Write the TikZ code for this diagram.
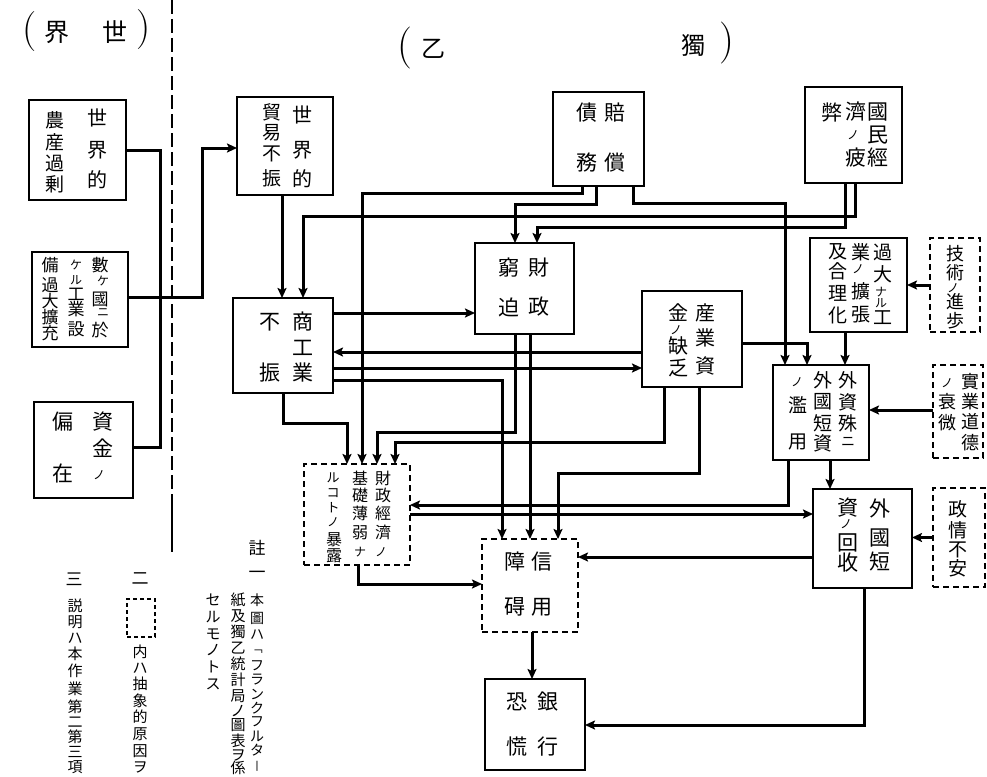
\documentclass[tikz,border=0pt]{standalone}
\usepackage{fontspec}
\newfontfamily\cjk{Noto Sans CJK JP}
\usetikzlibrary{arrows.meta}
\tikzset{
  box/.style={draw, line width=1.6pt, inner sep=0pt, outer sep=0pt},
  dbox/.style={box, dash pattern=on 6pt off 4pt},
  conn/.style={line width=3pt, line join=miter},
  arr/.style={conn, -{Stealth[length=10pt,width=9pt,inset=2pt]}},
  txt/.style={inner sep=0pt, outer sep=0pt},
  sep/.style={line width=1.3pt},
}
\newcommand\smk[1]{{\fontsize{12}{12}\selectfont #1}}
\newcommand\tnk[1]{{\fontsize{11}{11}\selectfont #1}}
\newcommand\jtx[3]{\foreach \xx/\yy/\ch [count=\k] in {#3} {\node[txt,font=\cjk\fontsize{#2}{#2}\selectfont] (#1-\k) at (\xx,\yy) {\ch};}}
\begin{document}
\begin{tikzpicture}[x=1pt,y=-1pt]
\useasboundingbox (0,0) rectangle (987,776);
\fill[white] (0,0) rectangle (987,776);

% ---------- titles
\node[txt,font=\fontsize{40}{40}\selectfont] (tl1) at (30,32) {(};
\node[txt,font=\cjk\fontsize{25}{25}\selectfont] (tl2) at (57,32) {界};
\node[txt,font=\cjk\fontsize{25}{25}\selectfont] (tl3) at (115,32) {世};
\node[txt,font=\fontsize{40}{40}\selectfont] (tl4) at (144,30) {)};
\node[txt,font=\fontsize{42}{42}\selectfont] (tr1) at (405,48) {(};
\node[txt,font=\cjk\fontsize{24}{24}\selectfont] (tr2) at (433,49) {乙};
\node[txt,font=\cjk\fontsize{24}{24}\selectfont] (tr3) at (693,45) {獨};
\node[txt,font=\fontsize{42}{42}\selectfont] (tr4) at (727,43) {)};

% ---------- separator
\draw[sep, dash pattern=on 14pt off 5pt] (172,0) -- (172,505);
\draw[sep] (172,505) -- (172,552);

% ---------- boxes
\node[box,minimum width=97pt,minimum height=100pt] (noho) at (77.5,150) {};
\node[box,minimum width=96pt,minimum height=95pt] (suka) at (80,299.5) {};
\node[box,minimum width=99pt,minimum height=96pt] (henzai) at (83.5,450) {};
\node[box,minimum width=96pt,minimum height=98pt] (boeki) at (285,146) {};
\node[box,minimum width=100pt,minimum height=95pt] (shoko) at (283,345.5) {};
\node[box,minimum width=91pt,minimum height=94pt] (baisho) at (598.5,139) {};
\node[box,minimum width=97pt,minimum height=96pt] (kokumin) at (853.5,135) {};
\node[box,minimum width=97pt,minimum height=94pt] (kadai) at (858.5,285) {};
\node[dbox,minimum width=50pt,minimum height=94pt] (gijutsu) at (955,285) {};
\node[box,minimum width=100pt,minimum height=96pt] (sangyo) at (692,339) {};
\node[box,minimum width=96pt,minimum height=95pt] (gaishi) at (821,412.5) {};
\node[dbox,minimum width=50pt,minimum height=93pt] (jitsu) at (958,411.5) {};
\node[box,minimum width=99pt,minimum height=99pt] (kaishu) at (862.5,538.5) {};
\node[dbox,minimum width=52pt,minimum height=99pt] (seijo) at (959,537.5) {};
\node[dbox,minimum width=106pt,minimum height=101pt] (zaikei) at (357,514.5) {};
\node[dbox,minimum width=96pt,minimum height=93pt] (shinyo) at (530,585.5) {};
\node[box,minimum width=100pt,minimum height=91pt] (ginko) at (535,724.5) {};
\node[box,minimum width=99pt,minimum height=91pt] (zaisei) at (524.5,288.5) {};

% ---------- box texts (vertical columns, right to left)
\jtx{noR}{20}{97/118/世, 97/150/界, 97/180/的}
\jtx{noL}{19}{55/120/農, 55/142/産, 55/163/過, 55/184/剰}
\jtx{suR}{17}{100/265/數, 103/281/{\smk ケ}, 100/299/國, 103/313/{\smk ニ}, 100/330/於}
\jtx{suM}{17}{76/265/{\smk ケ}, 76/280/{\smk ル}, 76/294/工, 76/309/業, 76/329/設}
\jtx{suL}{17}{50/265/備, 50/285/過, 50/301/大, 50/317/擴, 50/333/充}
\jtx{heR}{21}{103/422/資, 103/448/金, 99/475/{\smk ノ}}
\jtx{heL}{21}{63/422/偏, 63/473/在}
\jtx{boR}{20}{302/115/世, 302/150/界, 302/179/的}
\jtx{boL}{19}{272/112/貿, 272/133/易, 272/154/不, 272/178/振}
\jtx{shR}{21}{303/322/商, 303/348/工, 303/373/業}
\jtx{shL}{21}{270/322/不, 270/373/振}
\jtx{ba}{21}{615/113/賠, 615/163/償, 587/113/債, 587/163/務}
\jtx{ko}{21}{878/112/國, 878/135/民, 878/158/經, 856/112/濟, 853/135/{\smk ノ}, 856/158/疲, 832/112/弊}
\jtx{ka}{19}{883/252/過, 883/274/大, 881/292/{\smk ナ}, 881/303/{\smk ル}, 883/318/工, 861/252/業, 858/269/{\smk ノ}, 861/291/擴, 861/315/張, 838/252/及, 838/271/合, 838/293/理, 838/315/化}
\jtx{gi}{18}{955/254/技, 955/273/術, 953/288/{\smk ノ}, 955/302/進, 955/321/歩}
\jtx{sa}{20}{705/313/産, 705/338/業, 705/366/資, 678/313/金, 676/330/{\smk ノ}, 678/346/缺, 678/368/乏}
\jtx{ga}{19}{848/380/外, 848/402/資, 848/423/殊, 848/442/{\fontsize{14}{14}\selectfont ニ}, 823/380/外, 823/402/國, 823/423/短, 823/443/資, 797/382/{\smk ノ}, 798/405/濫, 798/442/用}
\jtx{ji}{18}{970/382/實, 970/402/業, 970/422/道, 970/443/德, 947/383/{\smk ノ}, 947/402/衰, 947/423/微}
\jtx{kai}{21}{880/508/外, 880/538/國, 880/562/短, 848/508/資, 846/524/{\smk ノ}, 848/543/回, 848/563/收}
\jtx{se}{19}{958/509/政, 958/530/情, 958/550/不, 958/568/安}
\jtx{zkR}{16}{383/478/財, 383/495/政, 383/513/經, 383/532/濟, 381/552/{\smk ノ}}
\jtx{zkM}{16}{360/478/基, 360/495/礎, 360/513/薄, 360/533/弱, 360/552/{\smk ナ}}
\jtx{zkL}{16}{333/478/{\fontsize{13}{13}\selectfont ル}, 333/493/{\fontsize{13}{13}\selectfont コ}, 333/508/{\fontsize{13}{13}\selectfont ト}, 333/522/{\smk ノ}, 334/540/暴, 334/556/露}
\jtx{sy}{21}{542/562/信, 542/607/用, 515/562/障, 515/607/碍}
\jtx{gk}{21}{548/702/銀, 548/747/行, 517/702/恐, 517/747/慌}
\jtx{zs}{21}{539/268/財, 539/307/政, 509/268/窮, 509/307/迫}

% ---------- notes
\jtx{nA}{17}{257/548/註, 257/575/一, 140/579/二, 74/579/三}
\jtx{n1}{14}{257/600/本, 257/618/圖, 257/635/ハ, 257/652/\tnk{﹁}, 257/666/フ, 257/680/ラ, 257/694/ン, 257/708/ク, 257/722/フ, 257/736/ル, 257/750/タ, 257/766/\tnk{丨}}
\jtx{n2}{15}{238/600/紙, 238/616/及, 238/632/獨, 238/648/乙, 238/664/統, 238/680/計, 238/696/局, 238/711/ノ, 238/725/圖, 238/741/表, 238/755/ヲ, 238/768/係}
\jtx{n3}{15}{213/600/セ, 213/617/ル, 213/634/モ, 213/650/ノ, 213/667/ト, 213/684/ス}
\node[dbox,line width=1.1pt,dash pattern=on 4pt off 3pt,minimum width=28pt,minimum height=38pt] (legend) at (141,618) {};
\jtx{n4}{15}{140/652/内, 140/668/ハ, 140/684/抽, 140/701/象, 140/717/的, 140/734/原, 140/751/因, 140/767/ヲ}
\jtx{n5}{15}{75/606/説, 75/622/明, 75/638/ハ, 75/654/本, 75/671/作, 75/689/業, 75/707/第, 75/722/二, 75/737/第, 75/752/三, 75/767/項}

% ---------- connectors
\draw[conn] (noho.east |- 0,150) -- (160,150) -- (160,297);
\draw[conn] (henzai.east |- 0,447) -- (160,447) -- (160,297);
\draw[arr] (suka.east |- 0,297) -- (202,297) -- (202,148) -- (boeki.west |- 0,148);
\draw[arr] (282,0 |- boeki.south) -- (282,0 |- shoko.north);
\draw[arr] (855,0 |- kokumin.south) -- (855,216) -- (303,216) -- (303,0 |- shoko.north);
\draw[arr] (845,0 |- kokumin.south) -- (845,227) -- (537,227) -- (537,0 |- zaisei.north);
\draw[arr] (582,0 |- baisho.south) -- (582,193) -- (362,193) -- (362,0 |- zaikei.north);
\draw[arr] (596,0 |- baisho.south) -- (596,204) -- (515,204) -- (515,0 |- zaisei.north);
\draw[arr] (633,0 |- baisho.south) -- (633,203) -- (785,203) -- (785,0 |- gaishi.north);
\draw[arr] (shoko.east |- 0,313) -- (zaisei.west |- 0,313);
\draw[arr] (sangyo.west |- 0,352) -- (shoko.east |- 0,352);
\draw[arr] (shoko.east |- 0,368) -- (sangyo.west |- 0,368);
\draw[arr] (shoko.east |- 0,380) -- (502,380) -- (502,0 |- shinyo.north);
\draw[arr] (283,0 |- shoko.south) -- (283,423) -- (347,423) -- (347,0 |- zaikei.north);
\draw[arr] (515,0 |- zaisei.south) -- (515,432) -- (377,432) -- (377,0 |- zaikei.north);
\draw[arr] (530,0 |- zaisei.south) -- (530,0 |- shinyo.north);
\draw[arr] (664,0 |- sangyo.south) -- (664,442) -- (395,442) -- (395,0 |- zaikei.north);
\draw[arr] (699,0 |- sangyo.south) -- (699,473) -- (558,473) -- (558,0 |- shinyo.north);
\draw[arr] (sangyo.east |- 0,343) -- (807,343) -- (807,0 |- gaishi.north);
\draw[arr] (845,0 |- kadai.south) -- (845,0 |- gaishi.north);
\draw[arr] (gijutsu.west) -- (kadai.east |- gijutsu.west);
\draw[arr] (jitsu.west |- 0,410) -- (gaishi.east |- 0,410);
\draw[arr] (830,0 |- gaishi.south) -- (830,0 |- kaishu.north);
\draw[arr] (788,0 |- gaishi.south) -- (788,505) -- (zaikei.east |- 0,505);
\draw[arr] (zaikei.east |- 0,514) -- (kaishu.west |- 0,514);
\draw[arr] (seijo.west) -- (kaishu.east |- seijo.west);
\draw[arr] (kaishu.west |- 0,557) -- (shinyo.east |- 0,557);
\draw[arr] (358,0 |- zaikei.south) -- (358,584) -- (shinyo.west |- 0,584);
\draw[arr] (532,0 |- shinyo.south) -- (532,0 |- ginko.north);
\draw[arr] (864,0 |- kaishu.south) -- (864,725) -- (ginko.east |- 0,725);
\end{tikzpicture}
\end{document}
